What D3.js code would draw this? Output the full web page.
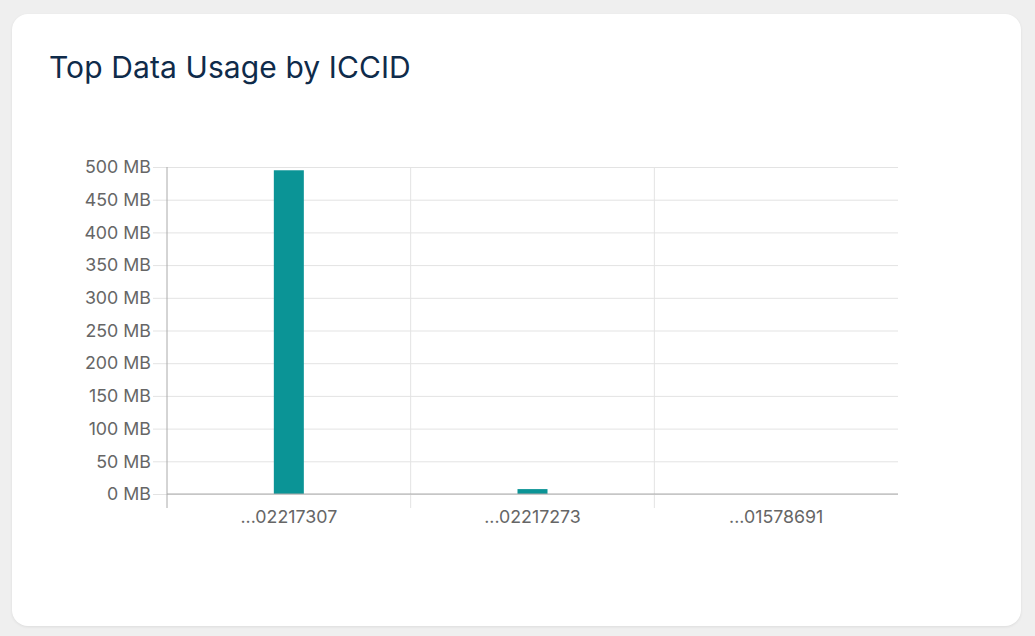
<!DOCTYPE html>
<html>
<head>
<meta charset="utf-8">
<script src="https://cdn.jsdelivr.net/npm/d3@7"></script>
<style>
  html, body { margin: 0; padding: 0; background: #efefef; }
  body { width: 1035px; height: 636px; position: relative; font-family: Inter, "Noto Sans", sans-serif; }
  .card {
    position: absolute; left: 12px; top: 14px; width: 1009px; height: 612px;
    background: #fff; border-radius: 16px; box-shadow: 0 1px 3px rgba(0,0,0,0.08);
  }
  .card h2 {
    position: absolute; left: 37px; top: 35px; margin: 0;
    font-size: 30px; font-weight: 400; color: #0f2b4a; letter-spacing: 0.1px;
  }
  svg { position: absolute; left: 0; top: 0; }
  .tick text { fill: #666; font-family: Inter, sans-serif; font-size: 17.8px; }
</style>
</head>
<body>
<div class="card"><h2>Top Data Usage by ICCID</h2></div>
<div id="chart"></div>
<script>
// chart data
const iccids = ['...02217307', '...02217273', '...01578691'];
const usageMB = [495, 7.5, 0];
const yTicks = [0, 50, 100, 150, 200, 250, 300, 350, 400, 450, 500];

const width = 1035, height = 636;
const margin = [167, 142, 167, 137]; // top, bottom, left, right

const svg = d3.select('#chart').append('svg')
    .attr('width', width)
    .attr('height', height);

const chartW = width - margin[2] - margin[3],
      chartH = height - margin[0] - margin[1];

const scaleX = d3.scaleBand(iccids, [0, chartW]);
const scaleY = d3.scaleLinear([0, 500], [chartH, 0]);

const chart = svg.append('g')
    .attr('transform', `translate(${margin[2]},${margin[0]})`);

// horizontal grid + y ticks
const axisY = chart.append('g')
    .call(d3.axisLeft(scaleY).tickValues(yTicks).tickSize(14).tickPadding(2)
        .tickFormat(d => `${d} MB`));
axisY.select('.domain').remove();
axisY.selectAll('.tick line')
    .attr('x2', chartW)
    .attr('x1', -14)
    .attr('stroke', '#e3e3e3');
axisY.selectAll('.tick text').attr('x', -16);

// vertical grid + x ticks
const axisX = chart.append('g')
    .attr('transform', `translate(0,${chartH})`)
    .call(d3.axisBottom(scaleX).tickSize(0).tickPadding(16));
axisX.select('.domain').remove();
axisX.selectAll('.tick text').attr('dy', '0.71em');

chart.append('g')
    .selectAll('line')
    .data(iccids)
    .join('line')
    .attr('x1', d => scaleX(d))
    .attr('x2', d => scaleX(d))
    .attr('y1', 0)
    .attr('y2', chartH + 14)
    .attr('stroke', (d, i) => i === 0 ? '#aaa' : '#e3e3e3');

// bars
const barW = 30;
chart.append('g')
    .selectAll('rect.bar')
    .data(usageMB.map((v, i) => [iccids[i], v]))
    .join('rect')
    .classed('bar', true)
    .attr('x', d => scaleX(d[0]) + scaleX.bandwidth() / 2 - barW / 2)
    .attr('y', d => scaleY(d[1]))
    .attr('width', barW)
    .attr('height', d => chartH - scaleY(d[1]))
    .attr('fill', '#0b9496');

// x axis baseline
chart.append('line')
    .attr('x1', 0).attr('x2', chartW)
    .attr('y1', chartH).attr('y2', chartH)
    .attr('stroke', '#aaa');
</script>
</body>
</html>
